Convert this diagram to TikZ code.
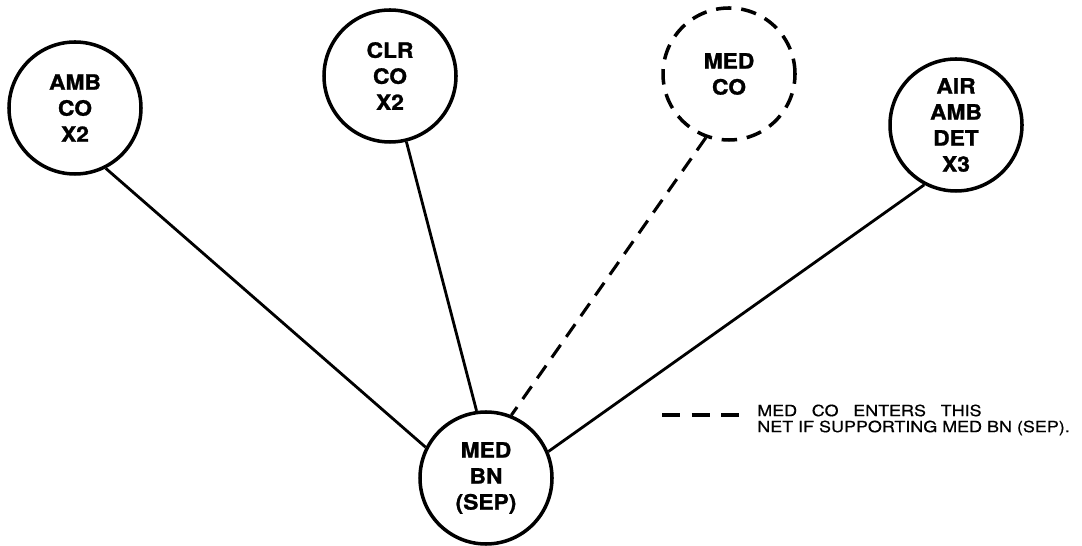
\documentclass[tikz,border=0pt]{standalone}
\usepackage{fontspec}
\setmainfont{TeX Gyre Heros}
\newfontfamily\unitfont[FakeStretch=1.08, FakeBold=1.2]{TeX Gyre Heros}
\newfontfamily\notefont[FakeStretch=1.16, FakeBold=0.6]{TeX Gyre Heros}
\usepackage{tikz}

\begin{document}
\begin{tikzpicture}[
    unit/.style={circle, draw, line width=2.5pt, minimum size=3.3cm, inner sep=0pt,
        align=center, font=\unitfont\bfseries\fontsize{15}{18.5}\selectfont},
    optunit/.style={unit, dash pattern=on 11pt off 7pt},
    link/.style={line width=2pt},
    optlink/.style={line width=2.2pt, dash pattern=on 11pt off 7pt}]
    \useasboundingbox (0, 0) rectangle (27.05, 13.625);
    \node [unit] (0) at (12.15, 1.675) {MED\\BN\\(SEP)}; % battalion
    \node [unit] (1) at (1.875, 10.925) {AMB\\CO\\X2};
    \node [unit] (2) at (9.75, 11.725) {CLR\\CO\\X2};
    \node [optunit] (3) at (18.225, 11.775) {MED\\CO};
    \node [unit] (4) at (23.9, 10.5) {AIR\\AMB\\DET\\X3};
    % net links
    \draw [link] (1.-63) to (0.153);
    \draw [link] (2.-76) to (0.98);
    \draw [optlink] (3.-110) to (0.68);
    \draw [link] (4.-118) to (0.23);
    % legend
    \coordinate (5) at (16.55, 3.25);
    \coordinate (6) at (18.5, 3.25);
    \draw [line width=2.6pt, dash pattern=on 13pt off 8pt] (5) to (6);
    \node [anchor=west, inner sep=0pt, align=left, font=\notefont\fontsize{11}{11.4}\selectfont]
        (7) at (18.925, 3.125) {MED\hspace{0.95em}CO\hspace{0.95em}ENTERS\hspace{0.95em}THIS\\NET IF SUPPORTING MED BN (SEP).};
\end{tikzpicture}
\end{document}
